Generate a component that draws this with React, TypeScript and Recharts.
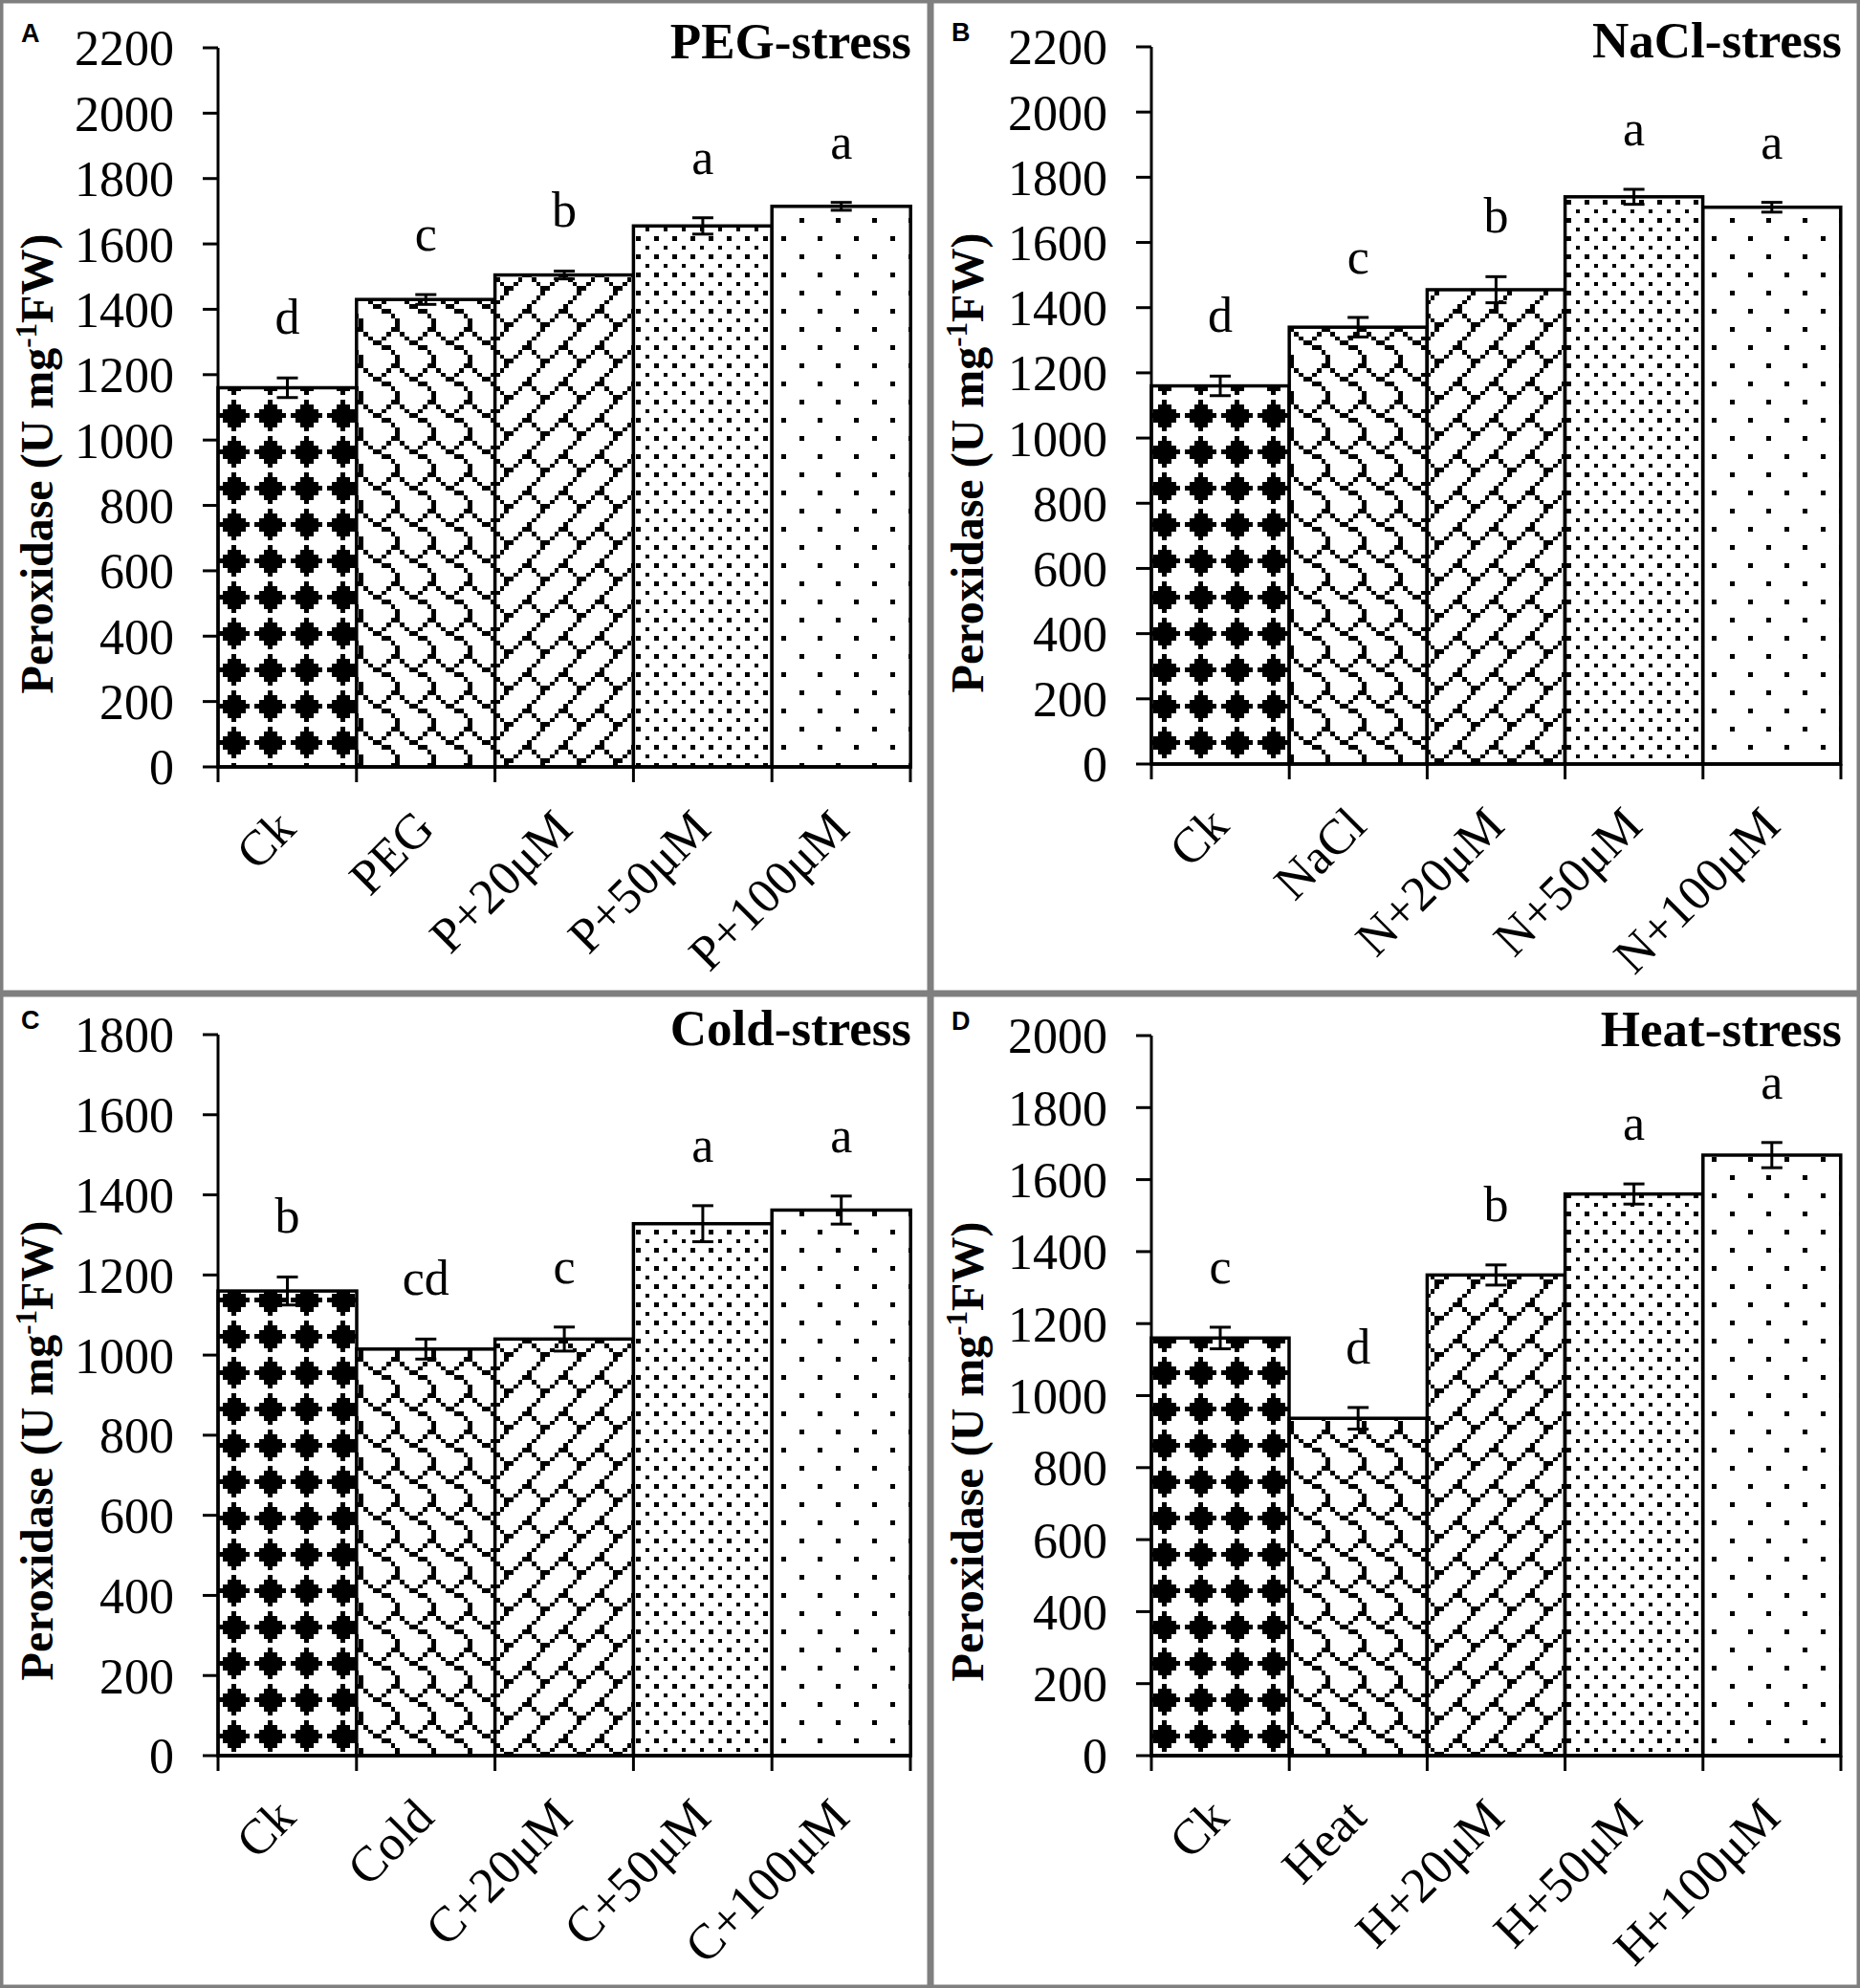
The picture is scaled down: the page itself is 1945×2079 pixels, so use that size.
import React from 'react';
import { BarChart, Bar, XAxis, YAxis, ErrorBar } from 'recharts';

// ---------- data ----------
const pegCategories = ['Ck', 'PEG', 'P+20μM', 'P+50μM', 'P+100μM'];
const pegValues = [1160, 1430, 1505, 1655, 1715];
const pegErrors = [30, 15, 12, 25, 12];
const pegLetters = ['d', 'c', 'b', 'a', 'a'];

const naclCategories = ['Ck', 'NaCl', 'N+20μM', 'N+50μM', 'N+100μM'];
const naclValues = [1160, 1340, 1455, 1740, 1708];
const naclErrors = [30, 30, 40, 23, 15];
const naclLetters = ['d', 'c', 'b', 'a', 'a'];

const coldCategories = ['Ck', 'Cold', 'C+20μM', 'C+50μM', 'C+100μM'];
const coldValues = [1160, 1015, 1040, 1328, 1362];
const coldErrors = [35, 25, 30, 45, 35];
const coldLetters = ['b', 'cd', 'c', 'a', 'a'];

const heatCategories = ['Ck', 'Heat', 'H+20μM', 'H+50μM', 'H+100μM'];
const heatValues = [1160, 937, 1335, 1560, 1668];
const heatErrors = [30, 30, 28, 28, 35];
const heatLetters = ['c', 'd', 'b', 'a', 'a'];

const ticks2200 = [0, 200, 400, 600, 800, 1000, 1200, 1400, 1600, 1800, 2000, 2200];
const ticks1800 = [0, 200, 400, 600, 800, 1000, 1200, 1400, 1600, 1800];
const ticks2000 = [0, 200, 400, 600, 800, 1000, 1200, 1400, 1600, 1800, 2000];

// 8x8 fill patterns (solid diamond, shingle, diagonal brick, 20%, 5%)
const patternDiamond = [0x10, 0x38, 0x7c, 0xfe, 0x7c, 0x38, 0x10, 0x00];
const patternShingle = [0x03, 0x84, 0x48, 0x30, 0x0c, 0x02, 0x01, 0x01];
const patternBrick = [0x01, 0x02, 0x04, 0x08, 0x18, 0x24, 0x42, 0x81];
const pattern20 = [0x88, 0x00, 0x22, 0x00, 0x88, 0x00, 0x22, 0x00];
const pattern05 = [0x80, 0x00, 0x00, 0x00, 0x08, 0x00, 0x00, 0x00];
const PATTERNS = [patternDiamond, patternShingle, patternBrick, pattern20, pattern05];

// ---------- styling ----------
const SERIF = "'Liberation Serif', 'Times New Roman', serif";
const SANS = "'Liberation Sans', Arial, sans-serif";
const PX = 4.75;

function PatternDefs() {
  return (
    <svg width={0} height={0} style={{ position: 'absolute', left: 0, top: 0 }}>
      <defs>
        {PATTERNS.map((bits, i) => (
          <pattern key={i} id={`pat${i}`} patternUnits="userSpaceOnUse" width={PX * 8} height={PX * 8}>
            <rect x={0} y={0} width={PX * 8} height={PX * 8} fill="#fff" />
            {bits.map((row, r) =>
              [0, 1, 2, 3, 4, 5, 6, 7].map((c) =>
                (row >> (7 - c)) & 1 ? (
                  <rect
                    key={`${r}-${c}`}
                    x={c * PX}
                    y={r * PX}
                    width={PX + 0.15}
                    height={PX + 0.15}
                    fill="#000"
                    shapeRendering="crispEdges"
                  />
                ) : null
              )
            )}
          </pattern>
        ))}
      </defs>
    </svg>
  );
}

type Geom = { left: number; top: number; w: number; h: number; x0: number; x1: number; y0: number; y1: number };

const geomA: Geom = { left: 0, top: 0, w: 973, h: 1039, x0: 228, x1: 952, y0: 50, y1: 802 };
const geomB: Geom = { left: 973, top: 0, w: 972, h: 1039, x0: 1204, x1: 1925, y0: 49, y1: 799 };
const geomC: Geom = { left: 0, top: 1039, w: 973, h: 1040, x0: 228, x1: 952, y0: 1082, y1: 1836 };
const geomD: Geom = { left: 973, top: 1039, w: 972, h: 1040, x0: 1204, x1: 1925, y0: 1083, y1: 1836 };

type PanelProps = {
  geom: Geom;
  tag: string;
  title: string;
  categories: string[];
  values: number[];
  errors: number[];
  letters: string[];
  ticks: number[];
};

function Panel({ geom, tag, title, categories, values, errors, letters, ticks }: PanelProps) {
  const { left, top, w, h, x0, x1, y0, y1 } = geom;
  const data = categories.map((cat, i) => ({ cat, value: values[i], err: errors[i], letter: letters[i] }));
  const n = categories.length;
  const band = (x1 - x0) / n;
  const axisY = y1 - top;
  const plotTop = y0 - top;
  const plotRight = x1 - left;
  const max = ticks[ticks.length - 1];

  const renderTick = (props: any) => {
    const { x, payload } = props;
    const idx = props.index != null ? props.index : categories.indexOf(payload.value);
    const ax = x + 11;
    const ay = axisY + 67;
    return (
      <g>
        <line x1={x - band / 2} y1={axisY} x2={x - band / 2} y2={axisY + 16} stroke="#000" strokeWidth={3} />
        {idx === n - 1 ? (
          <line x1={x + band / 2} y1={axisY} x2={x + band / 2} y2={axisY + 16} stroke="#000" strokeWidth={3} />
        ) : null}
        <text
          x={ax}
          y={ay}
          transform={`rotate(-45 ${ax} ${ay})`}
          textAnchor="end"
          fontSize={52}
          fontFamily={SERIF}
          fill="#000"
        >
          {payload.value}
        </text>
      </g>
    );
  };

  const renderBar = (props: any) => {
    const { x, y, width, height, payload } = props;
    const idx = props.index != null ? props.index : categories.indexOf(payload.cat);
    const errPx = payload.value ? (payload.err * height) / payload.value : 0;
    return (
      <g>
        <rect x={x} y={y} width={width} height={height} fill={`url(#pat${idx})`} stroke="#000" strokeWidth={3.5} />
        <text
          x={x + width / 2}
          y={y - errPx - 46}
          textAnchor="middle"
          fontSize={52}
          fontFamily={SERIF}
          fill="#000"
        >
          {payload.letter}
        </text>
      </g>
    );
  };

  return (
    <div style={{ position: 'absolute', left, top, width: w, height: h }}>
      <BarChart
        width={w}
        height={h}
        data={data}
        margin={{ top: plotTop, right: w - plotRight, bottom: 0, left: 0 }}
        barCategoryGap={0}
        barGap={0}
      >
        <XAxis
          dataKey="cat"
          height={h - axisY}
          interval={0}
          tickLine={false}
          axisLine={{ stroke: '#000', strokeWidth: 3.5 }}
          tick={renderTick}
        />
        <YAxis
          width={x0 - left}
          domain={[0, max]}
          ticks={ticks}
          interval={0}
          tickSize={16}
          tickMargin={30}
          axisLine={{ stroke: '#000', strokeWidth: 3 }}
          tickLine={{ stroke: '#000', strokeWidth: 3 }}
          tick={{ fontSize: 52, fontFamily: SERIF, fill: '#000' }}
        />
        <Bar dataKey="value" isAnimationActive={false} shape={renderBar}>
          <ErrorBar dataKey="err" width={11} stroke="#000" strokeWidth={3} isAnimationActive={false} />
        </Bar>
      </BarChart>
      <svg
        width={w}
        height={h}
        style={{ position: 'absolute', left: 0, top: 0, pointerEvents: 'none' }}
      >
        <rect x={1.75} y={1.75} width={w - 3.5} height={h - 3.5} fill="none" stroke="#7f7f7f" strokeWidth={3.5} />
        <text x={22} y={plotTop - 6} fontSize={27} fontWeight="bold" fontFamily={SANS} fill="#000">
          {tag}
        </text>
        <text
          x={plotRight + 1}
          y={plotTop + 11}
          textAnchor="end"
          fontSize={53}
          fontWeight="bold"
          fontFamily={SERIF}
          fill="#000"
        >
          {title}
        </text>
        <text
          transform={`translate(55, ${plotTop + 435}) rotate(-90)`}
          textAnchor="middle"
          fontSize={48}
          fontWeight="bold"
          fontFamily={SERIF}
          fill="#000"
        >
          Peroxidase (U mg
          <tspan fontSize={31} dy={-17}>
            -1
          </tspan>
          <tspan dy={17}>FW)</tspan>
        </text>
      </svg>
    </div>
  );
}

export default function App() {
  return (
    <div
      style={{
        position: 'absolute',
        left: 0,
        top: 0,
        width: 1945,
        height: 2079,
        background: '#fff',
        overflow: 'hidden',
      }}
    >
      <PatternDefs />
      <Panel
        geom={geomA}
        tag="A"
        title="PEG-stress"
        categories={pegCategories}
        values={pegValues}
        errors={pegErrors}
        letters={pegLetters}
        ticks={ticks2200}
      />
      <Panel
        geom={geomB}
        tag="B"
        title="NaCl-stress"
        categories={naclCategories}
        values={naclValues}
        errors={naclErrors}
        letters={naclLetters}
        ticks={ticks2200}
      />
      <Panel
        geom={geomC}
        tag="C"
        title="Cold-stress"
        categories={coldCategories}
        values={coldValues}
        errors={coldErrors}
        letters={coldLetters}
        ticks={ticks1800}
      />
      <Panel
        geom={geomD}
        tag="D"
        title="Heat-stress"
        categories={heatCategories}
        values={heatValues}
        errors={heatErrors}
        letters={heatLetters}
        ticks={ticks2000}
      />
    </div>
  );
}
